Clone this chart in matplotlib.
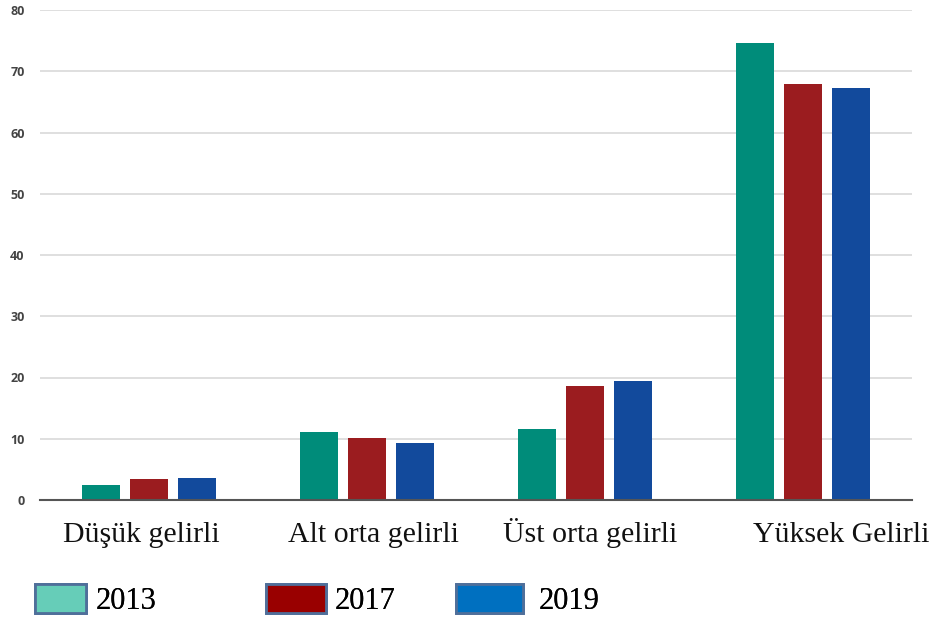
import matplotlib
matplotlib.use("Agg")
import matplotlib.pyplot as plt
import matplotlib.transforms as mtransforms
from matplotlib.patches import Patch
import numpy as np

categories = ["Düşük gelirli", "Alt orta gelirli", "Üst orta gelirli", "Yüksek Gelirli"]
years = ["2013", "2017", "2019"]
v2013 = [2.4, 11.1, 11.6, 74.6]
v2017 = [3.4, 10.1, 18.6, 67.9]
v2019 = [3.6, 9.3, 19.4, 67.3]
yticks = [0, 10, 20, 30, 40, 50, 60, 70, 80]

bar_colors = ["#008C7A", "#9B1C1F", "#124A9C"]
legend_colors = ["#66CDB8", "#990000", "#0070C0"]

fig = plt.figure(figsize=(9.36, 6.22), dpi=100)
ax = fig.add_axes([40/936, 1-500/622, 872/936, 490/622])

x = np.arange(len(categories))
w = 0.174
off = 0.22
for i, vals in enumerate([v2013, v2017, v2019]):
    ax.bar(x + (i-1)*off, vals, width=w, color=bar_colors[i], zorder=3)

ax.set_xlim(-0.5, 3.5)
ax.set_ylim(0, 80)
ax.set_yticks(yticks)
ax.set_yticklabels([str(t) for t in yticks], fontsize=9, color="#444444",
                   family="Open Sans", fontweight="bold")
ax.yaxis.grid(True, color="#d9d9d9", linewidth=1.2, zorder=0)
ax.tick_params(axis="y", length=0, pad=11)
ax.set_xticks([])
for s in ["top", "right", "left"]:
    ax.spines[s].set_visible(False)
ax.spines["bottom"].set_color("#555555")
ax.spines["bottom"].set_linewidth(1.5)
ax.spines["bottom"].set_zorder(4)

# category labels (baseline aligned)
shifts = [-8, 6, 5, 38]
trans_base = ax.get_xaxis_transform()
for xi, cat, sh in zip(x, categories, shifts):
    t = trans_base + mtransforms.ScaledTranslation(sh/100, 0, fig.dpi_scale_trans)
    ax.text(xi, -42/490, cat, transform=t, ha="center", va="baseline",
            fontsize=21.5, family="Liberation Serif", color="#111111", clip_on=False)

# legend: three separate entries
anchors = [35/936, 266/936, 456/936]
hlens = [1.67, 1.96, 2.19]
pads = [0.3, 0.3, 0.5]
for i in range(3):
    h = Patch(facecolor=legend_colors[i], edgecolor="#4F6F9A", linewidth=2.0, label=years[i])
    lg = fig.legend(handles=[h], loc="center left", bbox_to_anchor=(anchors[i], 1-600/622),
                    frameon=False, handlelength=hlens[i], handleheight=1.05,
                    handletextpad=pads[i], borderaxespad=0, borderpad=0,
                    prop={"family": "Liberation Serif", "size": 22})
    fig.add_artist(lg)

fig.savefig("out.png", dpi=100)
